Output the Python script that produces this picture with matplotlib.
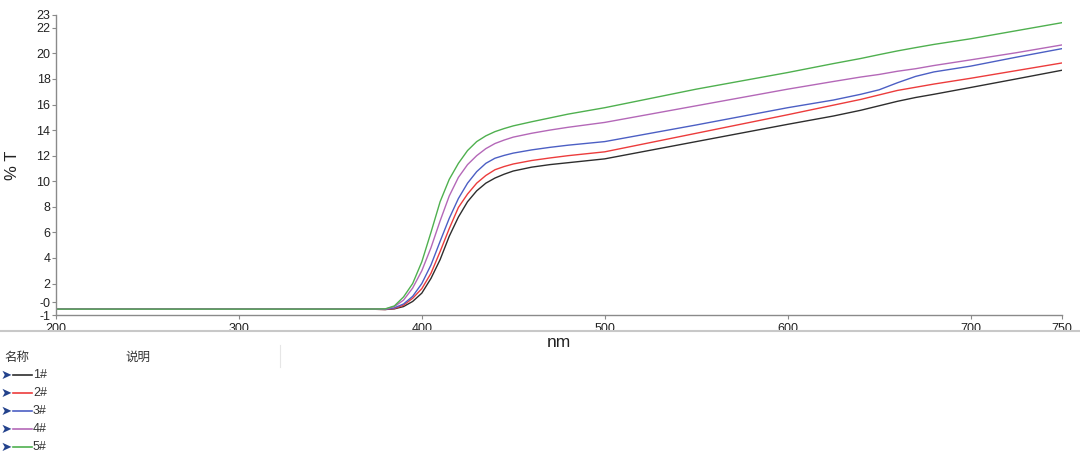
import matplotlib
matplotlib.use("Agg")
import matplotlib.pyplot as plt
from matplotlib.lines import Line2D

plt.rcParams['font.family'] = ['Liberation Sans', 'Noto Sans CJK SC', 'DejaVu Sans']

# ---- data ----
wavelength = [200, 370, 380, 385, 390, 395, 400, 405, 410, 415, 420, 425, 430, 435,
              440, 445, 450, 460, 470, 480, 500, 550, 600, 625, 640, 650, 660, 670,
              680, 700, 725, 750]
s1 = [0.0, 0.0, -0.03, 0.02, 0.2, 0.6, 1.25, 2.4, 3.87, 5.7, 7.2, 8.4, 9.25, 9.85,
      10.25, 10.55, 10.8, 11.1, 11.3, 11.45, 11.75, 13.1, 14.45, 15.1, 15.55, 15.9,
      16.25, 16.55, 16.8, 17.33, 18.0, 18.68]
s2 = [0.0, 0.0, -0.03, 0.05, 0.3, 0.85, 1.6, 2.8, 4.5, 6.3, 7.95, 9.0, 9.85, 10.45,
      10.9, 11.15, 11.35, 11.62, 11.82, 12.0, 12.3, 13.75, 15.2, 15.95, 16.4, 16.75,
      17.1, 17.35, 17.6, 18.05, 18.65, 19.25]
s3 = [0.0, 0.0, -0.02, 0.1, 0.4, 1.0, 2.0, 3.45, 5.3, 7.1, 8.65, 9.85, 10.75, 11.4,
      11.8, 12.02, 12.2, 12.45, 12.65, 12.82, 13.1, 14.4, 15.75, 16.35, 16.8, 17.15,
      17.7, 18.2, 18.55, 19.0, 19.7, 20.37]
s4 = [0.0, 0.0, 0.0, 0.2, 0.7, 1.65, 3.0, 4.8, 6.9, 8.85, 10.3, 11.3, 12.0, 12.55,
      12.95, 13.22, 13.45, 13.75, 14.0, 14.22, 14.6, 15.9, 17.2, 17.8, 18.15, 18.35,
      18.6, 18.8, 19.05, 19.49, 20.05, 20.66]
s5 = [0.0, 0.0, 0.02, 0.25, 0.95, 2.0, 3.7, 6.0, 8.4, 10.15, 11.4, 12.4, 13.1, 13.55,
      13.88, 14.12, 14.33, 14.65, 14.95, 15.25, 15.75, 17.2, 18.5, 19.2, 19.6, 19.9,
      20.19, 20.45, 20.7, 21.14, 21.77, 22.4]
series_names = ['1#', '2#', '3#', '4#', '5#']
series_colors = ['#2e2e2e', '#ec3c3c', '#4c5fc4', '#b468b8', '#4fb04f']
x_ticks = [200, 300, 400, 500, 600, 700, 750]
y_tick_pos = [23, 22, 20, 18, 16, 14, 12, 10, 8, 6, 4, 2, 0.52, -0.46]
y_tick_labels = ['23', '22', '20', '18', '16', '14', '12', '10', '8', '6', '4', '2', '-0', '-1']

fig = plt.figure(figsize=(10.8, 4.54), dpi=100)
ax = fig.add_axes([56 / 1080, (454 - 315) / 454, (1062 - 56) / 1080, 300 / 454])

for ys, c in zip([s1, s2, s3, s4, s5], series_colors):
    ax.plot(wavelength, ys, color=c, lw=1.0, solid_joinstyle='round')

ax.set_xlim(200, 750)
ax.set_ylim(-0.46, 23)
ax.set_xticks(x_ticks)
ax.set_yticks(y_tick_pos)
ax.set_yticklabels(y_tick_labels)
for s in ['top', 'right']:
    ax.spines[s].set_visible(False)
for s in ['left', 'bottom']:
    ax.spines[s].set_color('#8a8a8a')
    ax.spines[s].set_linewidth(1.0)
ax.tick_params(axis='both', colors='#8a8a8a', labelcolor='#222222', labelsize=9,
               length=3, width=0.8, pad=1)
ax.tick_params(axis='x', pad=3)
ax.set_xlabel('nm', fontsize=12.5, color='#222222', labelpad=0)
ax.set_ylabel('% T', fontsize=12, color='#222222', labelpad=12)

# ---- legend table below the plot ----
fig.add_artist(Line2D([0, 1], [1 - 331 / 454, 1 - 331 / 454], transform=fig.transFigure,
                      color='#c8c8c8', lw=1.5))
fig.add_artist(Line2D([280 / 1080, 280 / 1080], [1 - 367 / 454, 1 - 345 / 454],
                      transform=fig.transFigure, color='#e6e6e6', lw=0.8))
fig.text(4 / 1080, 1 - 357 / 454, '名称', fontsize=9, va='center', ha='left',
         family=['Noto Sans CJK SC', 'DejaVu Sans'], color='#333333')
fig.text(125 / 1080, 1 - 357 / 454, '说明', fontsize=9, va='center', ha='left',
         family=['Noto Sans CJK SC', 'DejaVu Sans'], color='#333333')
for i, (name, c) in enumerate(zip(series_names, series_colors)):
    yy = 1 - (375 + 18 * i) / 454
    fig.text(1 / 1080, yy, '➤', fontsize=9.5, va='center', ha='left',
             family=['DejaVu Sans'], color='#23428c')
    fig.add_artist(Line2D([13 / 1080, 32 / 1080], [yy, yy], transform=fig.transFigure,
                          color=c, lw=1.2))
    fig.text(33 / 1080, yy, name, fontsize=9, va='center', ha='left', color='#333333')

fig.savefig('out.png', dpi=100)
